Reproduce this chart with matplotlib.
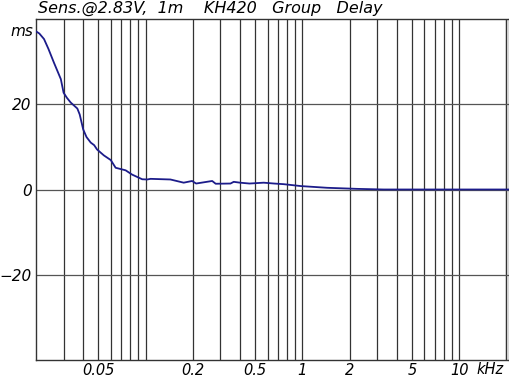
import numpy as np
import matplotlib.pyplot as plt
from matplotlib.ticker import FixedLocator

# group delay (kHz, ms)
freq_khz = [0.020, 0.021, 0.0225, 0.024, 0.026, 0.0288, 0.030, 0.0315, 0.0333,
            0.0367, 0.038, 0.040, 0.042, 0.0447, 0.047, 0.049, 0.0542, 0.060,
            0.0644, 0.0746, 0.082, 0.0952, 0.1025, 0.1076, 0.144, 0.175, 0.198,
            0.21, 0.266, 0.28, 0.348, 0.365, 0.40, 0.46, 0.567, 0.66, 0.76,
            0.98, 1.44, 2.23, 3.3, 5.0, 10.0, 20.8]
delay_ms = [37.1, 36.6, 35.3, 33.0, 29.8, 25.9, 22.7, 21.5, 20.4,
            19.0, 17.6, 14.1, 12.3, 11.0, 10.4, 9.4, 8.0, 6.9,
            5.1, 4.5, 3.5, 2.4, 2.35, 2.5, 2.35, 1.6, 2.0,
            1.4, 2.0, 1.35, 1.4, 1.8, 1.6, 1.4, 1.6, 1.4, 1.25,
            0.8, 0.4, 0.15, 0.0, 0.0, 0.0, 0.0]

x_labels = {0.05: "0.05", 0.2: "0.2", 0.5: "0.5", 1: "1", 2: "2", 5: "5", 10: "10"}
y_ticks = [-20, 0, 20]

plt.rcParams['font.family'] = ['DejaVu Sans']
plt.rcParams['font.style'] = 'italic'

fig = plt.figure(figsize=(5.1, 3.79), dpi=100)
ax = fig.add_axes([36/510, 19/379, 473/510, 341/379])

ax.plot(freq_khz, delay_ms, color='#1c1c8a', lw=1.3, zorder=3)

ax.set_xscale('log')
ax.set_xlim(0.02, 20.8)
ax.set_ylim(-40, 40)

grid_x = [m * 10.0**e for e in range(-2, 2) for m in range(1, 10)]
grid_x = [g for g in grid_x if 0.02 < g < 20.8] + [20]
for g in grid_x:
    ax.axvline(g, color='#333333', lw=0.9, zorder=1)
for g in y_ticks:
    ax.axhline(g, color='#555555', lw=0.9, zorder=1)

ax.xaxis.set_major_locator(FixedLocator(list(x_labels.keys())))
ax.xaxis.set_minor_locator(FixedLocator([]))
ax.set_xticklabels(list(x_labels.values()))
ax.yaxis.set_major_locator(FixedLocator(y_ticks))
ax.set_yticklabels(["\u221220", "0", "20"])
ax.tick_params(axis='x', length=0, labelsize=10.5, pad=2)
ax.tick_params(axis='y', length=0, labelsize=11, pad=3)
for s in ax.spines.values():
    s.set_color('#333333')
    s.set_linewidth(1.0)

ax.text(-0.005, 0.985, "ms", transform=ax.transAxes, ha='right', va='top', fontsize=11)
ax.text(0.988, -0.006, "kHz", transform=ax.transAxes, ha='right', va='top', fontsize=10.5)
fig.text(38/510, 1 - 1/379, "Sens.@2.83V,  1m    KH420   Group   Delay", ha='left', va='top',
         fontsize=11.5)

fig.savefig("out.png", dpi=100)
